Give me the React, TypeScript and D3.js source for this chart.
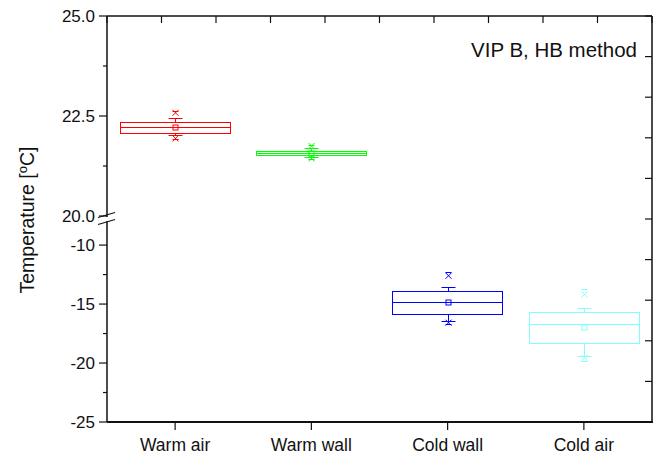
import { useEffect, useRef } from 'react'
import * as d3 from 'd3'

// box chart data
const categories = ['Warm air', 'Warm wall', 'Cold wall', 'Cold air']
const colors = ['#ff0000', '#00ff00', '#0000ff', '#80ffff']
const q1 = [22.08, 21.52, -15.87, -18.31]
const median = [22.225, 21.575, -14.8, -16.72]
const q3 = [22.36, 21.625, -13.9, -15.65]
const mean = [22.22, 21.57, -14.86, -16.97]
const whiskerLow = [22.02, 21.475, -16.47, -19.38]
const whiskerHigh = [22.46, 21.7, -13.56, -15.31]
const p1 = [21.94, 21.44, -16.58, -19.55]
const p99 = [22.58, 21.75, -12.6, -14.18]
const minVal = [21.92, 21.43, -16.66, -19.79]
const maxVal = [22.62, 21.77, -12.29, -13.69]

const upperTicks = [25, 22.5, 20]
const upperMinor = [23.75, 21.25]
const lowerTicks = [-10, -15, -20, -25]
const lowerMinor = [-12.5, -17.5, -22.5]

const W = 662
const H = 454
const left = 107
const right = 652
const top = 16
const bottom = 422
const font = '"Liberation Sans", Arial, sans-serif'

export default function App() {
  const svgRef = useRef<SVGSVGElement>(null)

  useEffect(() => {
    if (!svgRef.current) return
    const svg = d3.select(svgRef.current)
    svg.selectAll('*').remove()

    const x = d3.scaleBand<string>()
      .domain(categories)
      .range([left, right])
      .paddingInner(0.19)
      .paddingOuter(0.095)

    // broken y axis: two panels
    const yUp = d3.scaleLinear().domain([20, 25]).range([216, top])
    const yLow = d3.scaleLinear().domain([-25, -8]).range([bottom, 221.5])
    const y = (v: number) => (v > 0 ? yUp(v) : yLow(v))
    // snap to pixel centre so thin box lines stay crisp
    const ys = (v: number) => Math.round(y(v)) + 0.5

    const axisColor = '#111'

    // frame
    svg.append('line').attr('x1', left).attr('x2', right).attr('y1', top).attr('y2', top)
      .attr('stroke', axisColor).attr('stroke-width', 1.5)
    svg.append('line').attr('x1', right).attr('x2', right).attr('y1', top).attr('y2', bottom)
      .attr('stroke', axisColor).attr('stroke-width', 1.5)
    svg.append('line').attr('x1', left).attr('x2', right + 1).attr('y1', bottom).attr('y2', bottom)
      .attr('stroke', axisColor).attr('stroke-width', 2)
    svg.append('line').attr('x1', left).attr('x2', left).attr('y1', top).attr('y2', 217)
      .attr('stroke', axisColor).attr('stroke-width', 1.5)
    svg.append('line').attr('x1', left).attr('x2', left).attr('y1', 221).attr('y2', bottom)
      .attr('stroke', axisColor).attr('stroke-width', 1.5)

    // break marks
    ;[0, 7].forEach(off => {
      svg.append('line')
        .attr('x1', 98).attr('y1', 217.5 + off)
        .attr('x2', 115).attr('y2', 212.5 + off)
        .attr('stroke', axisColor).attr('stroke-width', 1.2)
    })

    // top and right ticks (inward)
    const xt = d3.scaleLinear().domain([0, 1]).range([left, right])
    xt.ticks(10).forEach(t => {
      svg.append('line').attr('x1', xt(t)).attr('x2', xt(t)).attr('y1', top).attr('y2', top + 7)
        .attr('stroke', axisColor).attr('stroke-width', 1.2)
    })
    const yr = d3.scaleLinear().domain([0, 1]).range([bottom, top])
    yr.ticks(10).forEach(t => {
      svg.append('line').attr('x1', right - 7).attr('x2', right).attr('y1', yr(t)).attr('y2', yr(t))
        .attr('stroke', axisColor).attr('stroke-width', 1.2)
    })

    // left ticks and labels (plain hyphen for minus, as in the figure)
    const leftTicks = [
      ...upperTicks.map(v => ({ v, major: true, label: v.toFixed(1) })),
      ...upperMinor.map(v => ({ v, major: false, label: '' })),
      ...lowerTicks.map(v => ({ v, major: true, label: String(v) })),
      ...lowerMinor.map(v => ({ v, major: false, label: '' }))
    ]
    leftTicks.forEach(t => {
      const yy = y(t.v)
      svg.append('line').attr('x1', left - (t.major ? 8 : 4)).attr('x2', left).attr('y1', yy).attr('y2', yy)
        .attr('stroke', axisColor).attr('stroke-width', 1.2)
      if (t.label) {
        svg.append('text')
          .attr('x', left - 12).attr('y', yy)
          .attr('dy', '0.36em')
          .attr('text-anchor', 'end')
          .attr('font-family', font).attr('font-size', 17)
          .attr('fill', '#111')
          .text(t.label)
      }
    })

    // bottom ticks and category labels
    categories.forEach(c => {
      const cx = x(c)! + x.bandwidth() / 2
      svg.append('line').attr('x1', cx).attr('x2', cx).attr('y1', bottom).attr('y2', bottom + 8)
        .attr('stroke', axisColor).attr('stroke-width', 1.2)
      svg.append('text')
        .attr('x', cx).attr('y', 451)
        .attr('text-anchor', 'middle')
        .attr('font-family', font).attr('font-size', 17.5)
        .attr('fill', '#111')
        .text(c)
    })

    // y label
    const yl = svg.append('text')
      .attr('transform', `translate(34,220) rotate(-90)`)
      .attr('text-anchor', 'middle')
      .attr('font-family', font).attr('font-size', 19.5)
      .attr('fill', '#111')
    yl.append('tspan').text('Temperature [')
    yl.append('tspan').attr('font-size', 13).attr('dy', -7).text('o')
    yl.append('tspan').attr('dy', 7).text('C]')

    // annotation
    svg.append('text')
      .attr('x', 637).attr('y', 57)
      .attr('text-anchor', 'end')
      .attr('font-family', font).attr('font-size', 20.5)
      .attr('fill', '#111')
      .text('VIP B, HB method')

    // boxes
    categories.forEach((c, i) => {
      const col = colors[i]
      const x0 = Math.round(x(c)!) + 0.5
      const bw = Math.round(x.bandwidth())
      const cx = Math.round(x(c)! + x.bandwidth() / 2) + 0.5
      const g = svg.append('g').attr('stroke', col).attr('fill', 'none').attr('stroke-width', 1)

      // whiskers
      g.append('line').attr('x1', cx).attr('x2', cx).attr('y1', ys(q3[i])).attr('y2', ys(whiskerHigh[i]))
      g.append('line').attr('x1', cx).attr('x2', cx).attr('y1', ys(q1[i])).attr('y2', ys(whiskerLow[i]))
      g.append('line').attr('x1', cx - 7).attr('x2', cx + 7).attr('y1', ys(whiskerHigh[i])).attr('y2', ys(whiskerHigh[i]))
      g.append('line').attr('x1', cx - 7).attr('x2', cx + 7).attr('y1', ys(whiskerLow[i])).attr('y2', ys(whiskerLow[i]))

      // box
      g.append('rect')
        .attr('x', x0).attr('y', ys(q3[i]))
        .attr('width', bw).attr('height', ys(q1[i]) - ys(q3[i]))
      g.append('line').attr('x1', x0).attr('x2', x0 + bw).attr('y1', ys(median[i])).attr('y2', ys(median[i]))

      // mean
      g.append('rect')
        .attr('x', cx - 2.5).attr('y', ys(mean[i]) - 2.5)
        .attr('width', 5).attr('height', 5)

      // 1% / 99% crosses
      ;[p1[i], p99[i]].forEach(v => {
        const yy = y(v)
        g.append('path').attr('d', `M${cx - 3},${yy - 3}L${cx + 3},${yy + 3}M${cx - 3},${yy + 3}L${cx + 3},${yy - 3}`)
      })
      // min / max dashes
      ;[minVal[i], maxVal[i]].forEach(v => {
        const yy = ys(v)
        g.append('line').attr('x1', cx - 3).attr('x2', cx + 3).attr('y1', yy).attr('y2', yy)
      })
    })
  }, [])

  return (
    <svg
      ref={svgRef}
      width={W}
      height={H}
      style={{ position: 'absolute', left: 0, top: 0, background: '#fff' }}
    />
  )
}
